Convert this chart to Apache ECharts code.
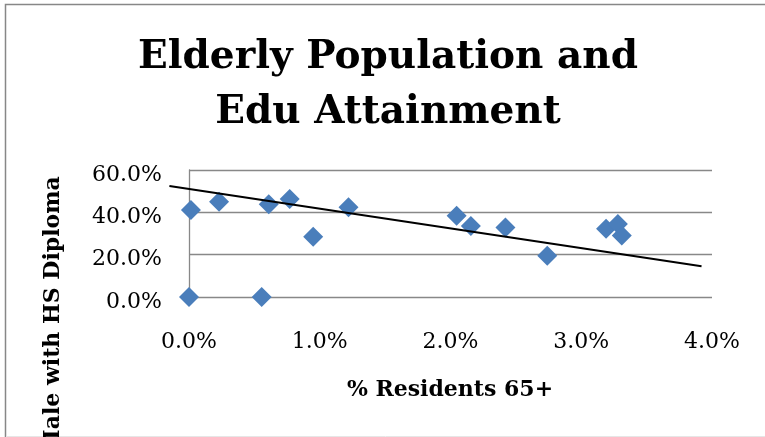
<!DOCTYPE html>
<html><head><meta charset="utf-8">
<script src="https://cdn.jsdelivr.net/npm/echarts@6/dist/echarts.min.js"></script>
<style>html,body{margin:0;padding:0;background:#fff;} #c{width:765px;height:437px;}</style>
</head><body><div id="c"></div>
<script>
// Data
const pctResidents65 = [0.015, 0.23, 0.61, 0.77, 0.95, 1.22, 0, 0.556, 2.047, 2.156, 2.42, 2.74, 3.19, 3.28, 3.31];
const pctMaleHSDiploma = [41.1, 45.0, 43.8, 46.3, 28.5, 42.4, 0, 0, 38.4, 33.6, 32.8, 19.5, 32.2, 34.5, 29.0];
const trendX = [-0.15, 3.92];
const trendY = [52.4, 14.5];
const xTicks = [0, 1, 2, 3, 4];
const yTicks = [0, 20, 40, 60];
const titleLines = ['Elderly Population and', 'Edu Attainment'];
const xName = '% Residents 65+';
const yName = 'Male with HS Diploma';

const FONT = 'DejaVu Serif';
const GRID_COLOR = '#888888';

const chart = echarts.init(document.getElementById('c'), null, {renderer: 'canvas'});
const pts = pctResidents65.map((x, i) => [x, pctMaleHSDiploma[i]]);
const pctFmt = v => v.toFixed(1) + '%';

chart.setOption({
  animation: false,
  backgroundColor: '#ffffff',
  grid: {left: 189, right: 53, top: 170, bottom: 140, containLabel: false},
  xAxis: {
    type: 'value',
    min: xTicks[0], max: xTicks[xTicks.length - 1], interval: xTicks[1] - xTicks[0],
    axisLine: {show: false},
    axisTick: {show: false},
    splitLine: {show: false},
    axisLabel: {formatter: pctFmt, fontFamily: FONT, fontSize: 22, color: '#000', margin: 34}
  },
  yAxis: {
    type: 'value',
    min: yTicks[0], max: yTicks[yTicks.length - 1], interval: yTicks[1] - yTicks[0],
    axisLine: {show: true, lineStyle: {color: GRID_COLOR, width: 1.3}},
    axisTick: {show: false},
    splitLine: {show: true, lineStyle: {color: GRID_COLOR, width: 1.3}},
    axisLabel: {
      formatter: v => '{l|' + pctFmt(v) + '}',
      margin: 27,
      rich: {l: {fontFamily: FONT, fontSize: 22, color: '#000', padding: [10, 0, 0, 0]}}
    }
  },
  series: [
    {
      type: 'scatter',
      data: pts,
      symbol: 'diamond',
      symbolSize: 20,
      itemStyle: {color: '#4A7EBB', opacity: 1},
      z: 3
    },
    {
      type: 'custom',
      clip: false,
      z: 4,
      data: [[trendX[0], trendY[0], trendX[1], trendY[1]]],
      encode: {x: [0, 2], y: [1, 3]},
      renderItem: function (params, api) {
        const p1 = api.coord([api.value(0), api.value(1)]);
        const p2 = api.coord([api.value(2), api.value(3)]);
        return {
          type: 'line',
          shape: {x1: p1[0], y1: p1[1], x2: p2[0], y2: p2[1]},
          style: {stroke: '#000', lineWidth: 2}
        };
      }
    }
  ],
  graphic: [
    {type: 'rect', silent: true, z: -1, shape: {x: 5.5, y: 4.5, width: 800, height: 600},
      style: {fill: 'none', stroke: '#878787', lineWidth: 1.5}},
    {type: 'line', silent: true, shape: {x1: 6, y1: 436.5, x2: 765, y2: 436.5},
      style: {stroke: '#e6e6e6', lineWidth: 1}},
    {type: 'text', x: 388, y: 58, style: {text: titleLines[0], font: 'bold 39px "' + FONT + '"',
      fill: '#000', textAlign: 'center', textVerticalAlign: 'middle'}},
    {type: 'text', x: 388, y: 113, style: {text: titleLines[1], font: 'bold 39px "' + FONT + '"',
      fill: '#000', textAlign: 'center', textVerticalAlign: 'middle'}},
    {type: 'text', x: 450, y: 390, style: {text: xName, font: 'bold 22px "' + FONT + '"',
      fill: '#000', textAlign: 'center', textVerticalAlign: 'middle'}},
    {type: 'text', x: 53, y: 315, rotation: Math.PI / 2, style: {text: yName, font: 'bold 22px "' + FONT + '"',
      fill: '#000', textAlign: 'center', textVerticalAlign: 'middle'}}
  ]
});
</script>
</body></html>
